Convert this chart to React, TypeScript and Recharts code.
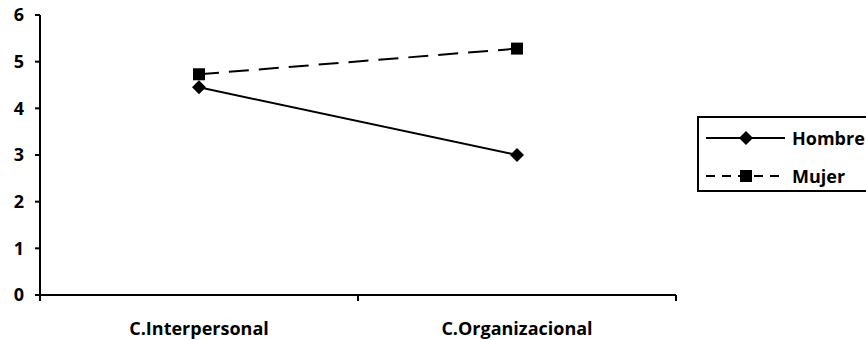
import { Legend, Line, LineChart, XAxis, YAxis } from "recharts";

const categories = ["C.Interpersonal", "C.Organizacional"];
const hombre = [4.45, 3.0];
const mujer = [4.73, 5.28];
const yTicks = [0, 1, 2, 3, 4, 5, 6];

const FONT = "'Open Sans', sans-serif";
const FS = 18;

// points sit in the middle of each category band, ticks on the band edges
const data = categories.map((name, i) => ({
  pos: i + 0.5,
  name,
  Hombre: hombre[i],
  Mujer: mujer[i],
}));
const xTicks = [0, ...categories.flatMap((_, i) => [i + 0.5, i + 1])];

function XTick(props: any) {
  const { x, y, payload } = props;
  const v = payload.value as number;
  if (Number.isInteger(v)) {
    return <line x1={x} y1={y} x2={x} y2={y + 6} stroke="#000" strokeWidth={2} />;
  }
  return (
    <text
      x={x}
      y={y + 33}
      textAnchor="middle"
      dominantBaseline="central"
      fontFamily={FONT}
      fontWeight={700}
      fontSize={FS}
      fill="#000"
    >
      {categories[Math.floor(v)]}
    </text>
  );
}

function Diamond({ cx, cy }: { cx: number; cy: number }) {
  const s = 7;
  return <path d={`M${cx},${cy - s}L${cx + s},${cy}L${cx},${cy + s}L${cx - s},${cy}Z`} fill="#000" />;
}

function Square({ cx, cy }: { cx: number; cy: number }) {
  const s = 6;
  return <rect x={cx - s} y={cy - s} width={s * 2} height={s * 2} fill="#000" />;
}

function LegendBox() {
  const rows = [
    { name: "Hombre", dash: undefined, marker: "diamond" },
    { name: "Mujer", dash: "9 7", marker: "square" },
  ];
  return (
    <div
      style={{
        position: "relative",
        width: 175,
        height: 72,
        border: "2px solid #000",
        background: "#fff",
        fontFamily: FONT,
        fontWeight: 700,
        fontSize: FS,
        color: "#000",
      }}
    >
      {rows.map((r, i) => (
        <div key={r.name} style={{ position: "absolute", left: 7, top: 8 + i * 38, height: 24, display: "flex", alignItems: "center" }}>
          <svg width={80} height={16} style={{ display: "block" }}>
            <line x1={0} y1={8} x2={79} y2={8} stroke="#000" strokeWidth={2} strokeDasharray={r.dash} />
            {r.marker === "diamond" ? <Diamond cx={40} cy={8} /> : <Square cx={40} cy={8} />}
          </svg>
          <span style={{ marginLeft: 6 }}>{r.name}</span>
        </div>
      ))}
    </div>
  );
}

export default function App() {
  return (
    <div style={{ position: "absolute", left: 0, top: 0, width: 866, height: 340, overflow: "hidden", background: "#fff" }}>
      <LineChart width={866} height={340} data={data} margin={{ top: 15, right: 190, bottom: 0, left: 0 }}>
        <XAxis
          dataKey="pos"
          type="number"
          domain={[0, categories.length]}
          ticks={xTicks}
          interval={0}
          height={45}
          tickSize={0}
          tickMargin={0}
          tickLine={false}
          axisLine={{ stroke: "#000", strokeWidth: 2 }}
          tick={<XTick />}
        />
        <YAxis
          domain={[0, 6]}
          ticks={yTicks}
          interval={0}
          width={40}
          tickSize={5}
          tickMargin={11}
          axisLine={{ stroke: "#000", strokeWidth: 2 }}
          tickLine={{ stroke: "#000", strokeWidth: 2 }}
          tick={{ fill: "#000", fontFamily: FONT, fontWeight: 700, fontSize: FS }}
        />
        <Legend
          layout="vertical"
          align="center"
          verticalAlign="middle"
          wrapperStyle={{ left: 697, top: 116, width: 175, height: 76 }}
          content={<LegendBox />}
        />
        <Line
          dataKey="Hombre"
          type="linear"
          stroke="#000"
          strokeWidth={2}
          dot={(p: any) => <Diamond key={`h${p.index}`} cx={p.cx} cy={p.cy} />}
          activeDot={false}
          isAnimationActive={false}
        />
        <Line
          dataKey="Mujer"
          type="linear"
          stroke="#000"
          strokeWidth={2}
          strokeDasharray="20 10"
          dot={(p: any) => <Square key={`m${p.index}`} cx={p.cx} cy={p.cy} />}
          activeDot={false}
          isAnimationActive={false}
        />
      </LineChart>
    </div>
  );
}
